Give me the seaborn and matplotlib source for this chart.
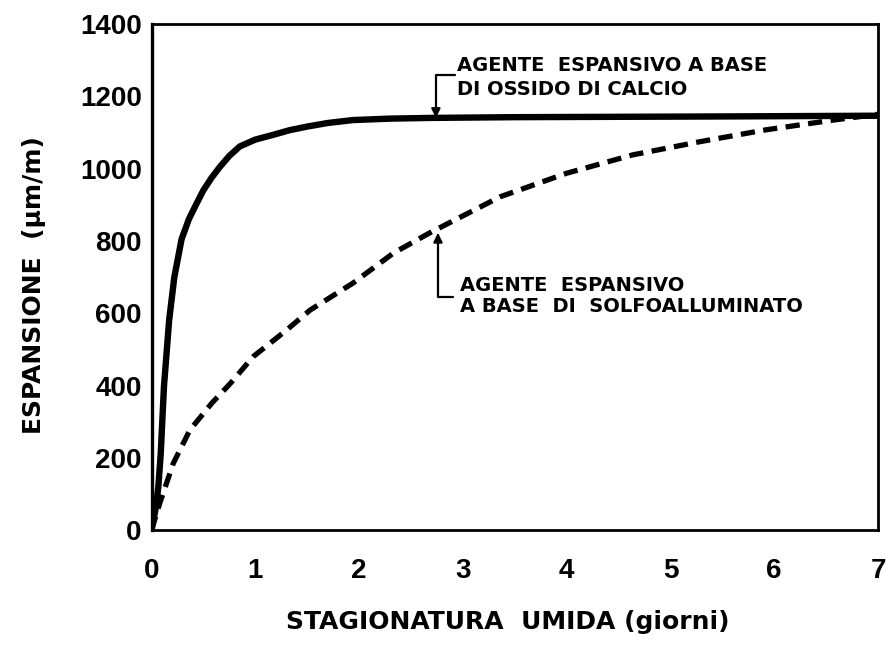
import matplotlib
matplotlib.use('Agg')
import matplotlib.pyplot as plt
import seaborn as sns

# curva ossido di calcio (linea continua)
giorni_cao = [0, 0.04, 0.066, 0.089, 0.12, 0.17, 0.22, 0.29, 0.36, 0.42, 0.5, 0.58,
              0.66, 0.75, 0.85, 1.0, 1.17, 1.33, 1.5, 1.7, 1.94, 2.3, 2.7, 3.5, 4.5, 5.5, 7.0]
esp_cao = [0, 60, 120, 212, 397, 581, 700, 805, 860, 895, 940, 975,
           1005, 1035, 1061, 1080, 1093, 1106, 1116, 1126, 1134, 1138, 1140, 1142, 1143, 1144, 1146]

# curva solfoalluminato (linea tratteggiata)
giorni_sulfo = [0, 0.08, 0.21, 0.37, 0.58, 0.76, 0.98, 1.3, 1.53, 1.94, 2.33, 2.68,
                3.36, 4.0, 4.64, 5.28, 5.92, 6.57, 7.0]
esp_sulfo = [0, 75, 185, 277, 351, 406, 480, 553, 609, 683, 766, 822,
             922, 987, 1038, 1074, 1107, 1134, 1150]

x_ticks = [0, 1, 2, 3, 4, 5, 6, 7]
y_ticks = [0, 200, 400, 600, 800, 1000, 1200, 1400]

sns.set_style('white')
plt.rcParams['font.family'] = ['Liberation Sans', 'DejaVu Sans']
plt.rcParams['font.weight'] = 'bold'
plt.rcParams['text.color'] = 'black'
plt.rcParams['axes.labelcolor'] = 'black'
plt.rcParams['xtick.color'] = 'black'
plt.rcParams['ytick.color'] = 'black'

fig = plt.figure(figsize=(8.86, 6.45), dpi=100)
ax = fig.add_axes([0.171, 0.178, 0.82, 0.785])

sns.lineplot(x=giorni_cao, y=esp_cao, ax=ax, color='black', linewidth=4.6,
             estimator=None, sort=False, solid_capstyle='round')
sns.lineplot(x=giorni_sulfo, y=esp_sulfo, ax=ax, color='black', linewidth=3.8,
             estimator=None, sort=False, linestyle=(0, (2.7, 1.6)))

ax.set_xlim(0, 7)
ax.set_ylim(0, 1400)
ax.set_xticks(x_ticks)
ax.set_yticks(y_ticks)
ax.set_xticklabels([str(t) for t in x_ticks], fontsize=20, fontweight='bold')
ax.set_yticklabels([str(t) for t in y_ticks], fontsize=20, fontweight='bold')
ax.tick_params(axis='both', direction='in', length=10, width=2, color='black')
ax.tick_params(axis='x', pad=20)
ax.tick_params(axis='y', pad=7)

for s in ax.spines.values():
    s.set_color('black')
    s.set_linewidth(2)
ax.spines['left'].set_linewidth(2.4)

lab_font = dict(fontsize=18, fontweight='bold', family='DejaVu Sans')
ax.set_xlabel('STAGIONATURA  UMIDA (giorni)', va='center', **lab_font)
ax.set_ylabel('ESPANSIONE  (µm/m)', va='center', **lab_font)
ax.xaxis.set_label_coords(0.491, -0.182)
ax.yaxis.set_label_coords(-0.162, 0.484)

# annotazioni
freccia = dict(arrowstyle='-|>', connectionstyle='angle,angleA=0,angleB=90,rad=0',
               color='black', lw=1.6, mutation_scale=13, shrinkA=0, shrinkB=0)
ax.annotate('', xy=(2.74, 1140), xytext=(2.92, 1259), arrowprops=freccia)
ax.text(2.94, 1311, 'AGENTE  ESPANSIVO A BASE\nDI OSSIDO DI CALCIO', ha='left', va='top',
        fontsize=14, fontweight='bold', family='DejaVu Sans', linespacing=1.3)
ax.annotate('', xy=(2.76, 822), xytext=(2.905, 645), arrowprops=freccia)
ax.text(2.97, 703, 'AGENTE  ESPANSIVO\nA BASE  DI  SOLFOALLUMINATO', ha='left', va='top',
        fontsize=14, fontweight='bold', family='DejaVu Sans', linespacing=1.15)

plt.savefig('out.png', dpi=100)
